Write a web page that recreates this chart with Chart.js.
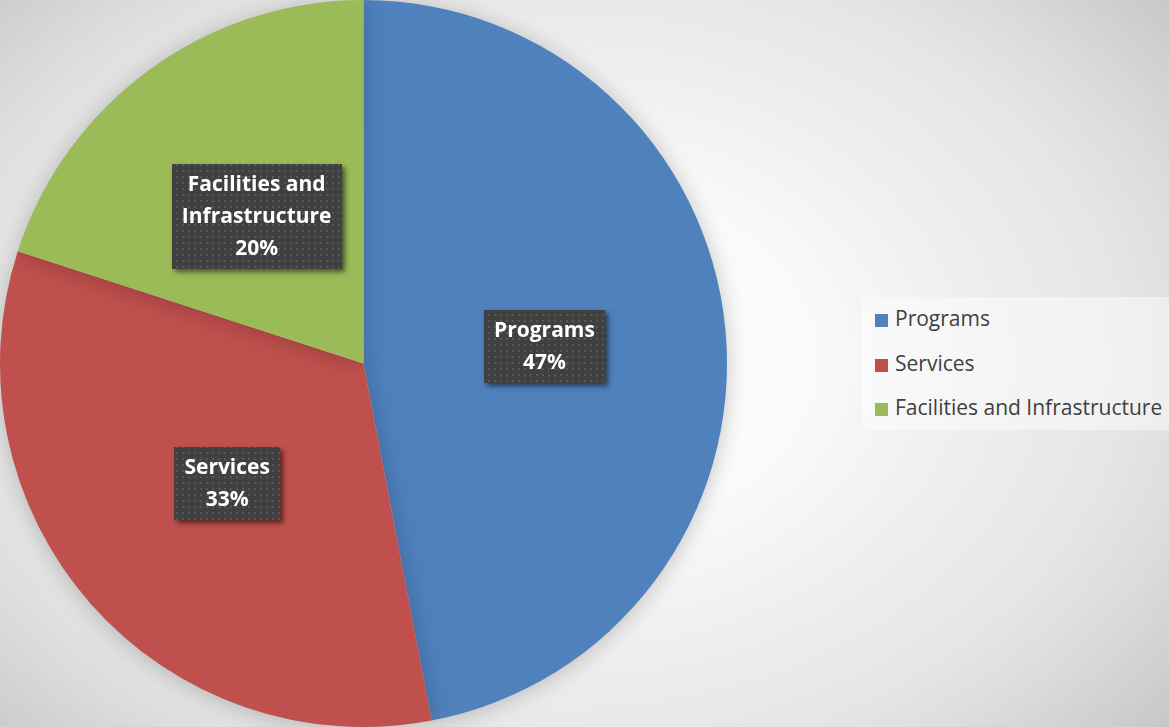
<!DOCTYPE html>
<html>
<head>
<meta charset="utf-8">
<script src="https://cdn.jsdelivr.net/npm/chart.js@4.4.1/dist/chart.umd.min.js"></script>
<style>
  html, body {
    margin: 0;
    padding: 0;
    width: 1169px;
    height: 727px;
    overflow: hidden;
    background: radial-gradient(ellipse 700px 500px at 560px 360px,
      #ffffff 0%, #fafafa 35%, #eeeeee 60%, #e6e6e6 80%, #dcdcdc 93%, #c6c6c6 115%);
  }
  #wrap {
    position: absolute;
    left: 0;
    top: 0;
    width: 770px;
    height: 727px;
  }
  #legend {
    position: absolute;
    left: 862px;
    top: 297px;
    width: 307px;
    height: 133px;
    background: rgba(255, 255, 255, 0.45);
    font-family: "Open Sans", sans-serif;
    font-size: 21px;
    color: #404040;
  }
  #legend .item {
    position: absolute;
    left: 13px;
    height: 26px;
    line-height: 26px;
    white-space: nowrap;
  }
  #legend .box {
    display: inline-block;
    width: 13px;
    height: 13px;
    margin-right: 7px;
    vertical-align: -1px;
  }
</style>
</head>
<body>
<div id="wrap"><canvas id="pie_chart"></canvas></div>
<div id="legend"></div>
<script>
// data
const categories = ['Programs', 'Services', 'Facilities and Infrastructure'];
const shares = [47, 33, 20];
const sliceColors = ['#4f81bd', '#c0504d', '#9bbb59'];
// label text as shown on the chart (line breaks included)
const labelLines = [['Programs'], ['Services'], ['Facilities and', 'Infrastructure']];

// legend, built from the same arrays
const legendEl = document.getElementById('legend');
categories.forEach((name, i) => {
  const row = document.createElement('div');
  row.className = 'item';
  row.style.top = (8 + i * 44.5) + 'px';
  row.innerHTML = `<span class="box" style="background:${sliceColors[i]}"></span>${name}`;
  legendEl.appendChild(row);
});

// little dotted fill used behind the data labels
function makeDots() {
  const c = document.createElement('canvas');
  c.width = 6;
  c.height = 6;
  const g = c.getContext('2d');
  g.fillStyle = '#404040';
  g.fillRect(0, 0, 6, 6);
  g.fillStyle = '#565656';
  g.fillRect(2, 2, 2, 2);
  return c;
}

// soft shadow round the pie
const pieShadow = {
  id: 'pieShadow',
  beforeDatasetsDraw(chart) {
    const ctx = chart.ctx;
    ctx.save();
    ctx.shadowColor = 'rgba(0,0,0,0.22)';
    ctx.shadowBlur = 22;
    ctx.shadowOffsetX = 0;
    ctx.shadowOffsetY = 2;
  },
  afterDatasetsDraw(chart) {
    chart.ctx.restore();
  }
};

// dark boxed labels at each slice's mid point
const boxLabels = {
  id: 'boxLabels',
  afterDatasetsDraw(chart) {
    const ctx = chart.ctx;
    const meta = chart.getDatasetMeta(0);
    const total = shares.reduce((a, b) => a + b, 0);
    const pattern = ctx.createPattern(makeDots(), 'repeat');
    const lineH = 32;
    ctx.save();
    ctx.font = 'bold 21px "Open Sans", sans-serif';
    meta.data.forEach((arc, i) => {
      const pos = arc.tooltipPosition();
      const lines = labelLines[i].concat([Math.round(shares[i] / total * 100) + '%']);
      let w = 0;
      lines.forEach(t => { w = Math.max(w, ctx.measureText(t).width); });
      const bw = Math.round(w + 20);
      const bh = lines.length * lineH + 9;
      const x = Math.round(pos.x - bw / 2);
      const y = Math.round(pos.y - bh / 2);

      ctx.save();
      ctx.shadowColor = 'rgba(0,0,0,0.55)';
      ctx.shadowBlur = 5;
      ctx.shadowOffsetX = 3;
      ctx.shadowOffsetY = 3;
      ctx.fillStyle = '#404040';
      ctx.fillRect(x, y, bw, bh);
      ctx.restore();
      ctx.fillStyle = pattern;
      ctx.fillRect(x, y, bw, bh);

      ctx.fillStyle = '#ffffff';
      ctx.textAlign = 'center';
      ctx.textBaseline = 'middle';
      lines.forEach((t, k) => {
        ctx.fillText(t, pos.x, y + 5 + lineH / 2 + k * lineH);
      });
    });
    ctx.restore();
  }
};

new Chart(document.getElementById('pie_chart'), {
  type: 'pie',
  data: {
    labels: categories,
    datasets: [{
      data: shares,
      backgroundColor: sliceColors,
      borderWidth: 0
    }]
  },
  options: {
    responsive: true,
    maintainAspectRatio: false,
    animation: false,
    layout: { padding: { right: 43 } },
    plugins: {
      legend: { display: false },
      tooltip: { enabled: false }
    }
  },
  plugins: [pieShadow, boxLabels]
});
</script>
</body>
</html>
